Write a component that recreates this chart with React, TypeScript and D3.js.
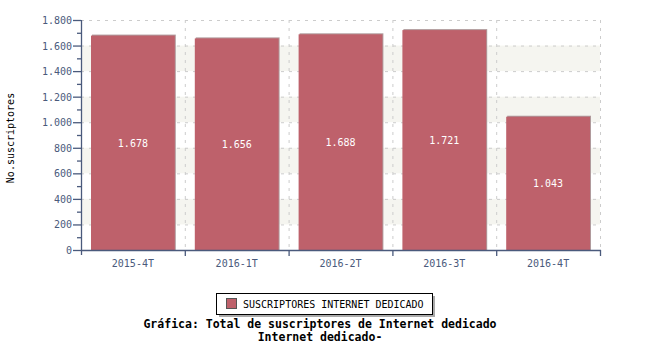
import React from "react";
import * as d3 from "d3";

const categories = ["2015-4T", "2016-1T", "2016-2T", "2016-3T", "2016-4T"];
const values = [1678, 1656, 1688, 1721, 1043];
const yTicks = [0, 200, 400, 600, 800, 1000, 1200, 1400, 1600, 1800];
const seriesName = "SUSCRIPTORES INTERNET DEDICADO";
const titleLines = ["Gráfica: Total de suscriptores de Internet dedicado", "Internet dedicado-"];
const yLabel = "No.suscriptores";

const fmt = (v: number) => d3.format(",")(v).replace(/,/g, ".");

export default function App() {
  const W = 650, H = 350;
  const left = 81, right = 600, top = 20, bottom = 250;
  const x = d3.scaleBand<string>().domain(categories).range([left, right]).paddingInner(0).paddingOuter(0);
  const y = d3.scaleLinear().domain([0, 1800]).range([bottom, top]);
  const bw = x.bandwidth();
  const pad = 10;
  const axisColor = "#4a5a7c";
  const font = "'DejaVu Sans Mono', monospace";
  const minor = d3.range(100, 1800, 200);
  const bands = [[200, 400], [600, 800], [1000, 1200], [1400, 1600]];
  return (
    <svg width={W} height={H} style={{ position: "absolute", left: 0, top: 0 }} fontFamily={font}>
      <rect width={W} height={H} fill="#fff" />
      {bands.map(([a, b], i) => (
        <rect key={i} x={left} y={y(b)} width={right - left} height={y(a) - y(b)} fill="#f5f5f0" />
      ))}
      {yTicks.filter(t => t > 0).map(t => (
        <line key={t} x1={left} x2={right} y1={y(t) + 0.5} y2={y(t) + 0.5} stroke="#cccccc" strokeDasharray="3,5" />
      ))}
      {categories.map((c, i) => (
        <line key={c} x1={(x(c) as number) + bw + 0.5} x2={(x(c) as number) + bw + 0.5} y1={top} y2={bottom} stroke="#cccccc" strokeDasharray="3,5" />
      ))}
      {categories.map((c, i) => {
        const x0 = (x(c) as number) + pad;
        const w = bw - 2 * pad;
        const yt = y(values[i]);
        return (
          <g key={c}>
            <rect x={x0 + 1} y={yt - 1} width={w} height={bottom - yt + 1} fill="#b09a9c" />
            <rect x={x0} y={yt} width={w} height={bottom - yt} fill="#be616b" />
            <text x={x0 + w / 2} y={(yt + bottom) / 2 + 4} fill="#fff" fontSize={10} textAnchor="middle">{fmt(values[i])}</text>
          </g>
        );
      })}
      {/* y axis */}
      <line x1={left + 0.5} x2={left + 0.5} y1={top} y2={bottom + 5} stroke={axisColor} strokeWidth={1.3} />
      {yTicks.map(t => (
        <g key={t}>
          <line x1={left - 8} x2={left} y1={y(t) + 0.5} y2={y(t) + 0.5} stroke={axisColor} strokeWidth={1.3} />
          <text x={left - 9} y={y(t) + 4} fontSize={10} fill={axisColor} textAnchor="end">{fmt(t)}</text>
        </g>
      ))}
      {minor.map(t => (
        <line key={t} x1={left - 4} x2={left} y1={y(t) + 0.5} y2={y(t) + 0.5} stroke={axisColor} strokeWidth={1.3} />
      ))}
      {/* x axis */}
      <line x1={left} x2={right + 1} y1={bottom + 0.5} y2={bottom + 0.5} stroke={axisColor} strokeWidth={1.3} />
      {categories.map((c, i) => (
        <g key={c}>
          <line x1={(x(c) as number) + bw + 0.5} x2={(x(c) as number) + bw + 0.5} y1={bottom} y2={bottom + 6} stroke={axisColor} strokeWidth={1.3} />
          <text x={(x(c) as number) + bw / 2} y={bottom + 17} fontSize={10} fill={axisColor} textAnchor="middle">{c}</text>
        </g>
      ))}
      <text transform={`translate(14,138) rotate(-90)`} fontSize={10} fill="#000" textAnchor="middle">{yLabel}</text>
      {/* legend */}
      <rect x={219} y={296} width={216} height={21} fill="#aaaaaa" />
      <rect x={216.5} y={293.5} width={216} height={21} fill="#fff" stroke="#000" />
      <rect x={226.5} y={298.5} width={10} height={10} fill="#be616b" stroke="#555" />
      <text x={243} y={307.5} fontSize={10} fill="#000">{seriesName}</text>
      {titleLines.map((t, i) => (
        <text key={i} x={320} y={328 + i * 13} fontSize={11.5} fontWeight="bold" textAnchor="middle" fill="#000">{t}</text>
      ))}
    </svg>
  );
}
